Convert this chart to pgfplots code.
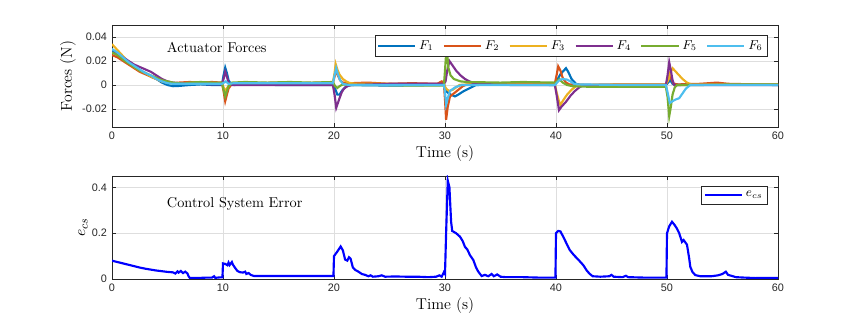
\documentclass[border=0pt]{standalone}
\usepackage{fontspec}
\usepackage{pgfplots}
\pgfplotsset{compat=1.18}
\newfontfamily\tickfont{Liberation Sans}

% MATLAB default line colours
\definecolor{mblue}{RGB}{0,114,189}
\definecolor{morange}{RGB}{217,83,25}
\definecolor{myellow}{RGB}{237,177,32}
\definecolor{mpurple}{RGB}{126,47,142}
\definecolor{mgreen}{RGB}{119,172,48}
\definecolor{mcyan}{RGB}{77,190,238}
\definecolor{axgray}{RGB}{38,38,38}

\pgfplotsset{mstyle/.style={
  scale only axis, width=466.2pt,
  xmin=0, xmax=60, xtick={0,10,...,60},
  xtick pos=both, ytick pos=both,
  tick align=inside, major tick length=3pt,
  axis line style={axgray, line width=0.5pt},
  tick style={axgray, line width=0.5pt},
  grid=major, major grid style={black!13, line width=0.4pt},
  /pgf/number format/assume math mode=true,
  ticklabel style={font=\tickfont\fontsize{7.6}{8}\selectfont, text=axgray},
  label style={font=\fontsize{11}{13}\selectfont},
  xlabel={Time (s)},
  xlabel style={at={(axis description cs:0.5,-0.265)}, anchor=center},
  legend cell align=left,
  legend style={draw=axgray, line width=0.5pt, fill=white, inner sep=1.5pt,
    font=\fontsize{9}{10}\selectfont, anchor=north east},
  legend image code/.code={\draw[#1] (0pt,0pt) -- (26pt,0pt);},
  every axis plot/.append style={line width=1.5pt},
}}

\begin{document}
\begin{tikzpicture}
\path[use as bounding box] (0,0) rectangle (602.7pt,229.6pt);

\begin{axis}[mstyle,
  at={(78.4pt,140.7pt)}, height=71.4pt,
  ymin=-0.035, ymax=0.05,
  ytick={-0.02,0,0.02,0.04}, yticklabels={-0.02,0,0.02,0.04},
  scaled y ticks=false,
  ylabel={Forces (N)},
  ylabel style={at={(axis description cs:-0.066,0.5)}, anchor=center},
  legend columns=6,
  legend style={at={(0.985,0.902)}},
  /tikz/every even column/.append style={column sep=4.5pt},
]
\addplot[mblue] coordinates {
(0,0.029) (0.5,0.025) (1,0.021) (1.5,0.018) (2,0.015) (2.5,0.012) (3,0.010) (3.5,0.007)
(4,0.005) (4.5,0.002) (5,0.000) (5.5,-0.001) (6,-0.0008) (7,0.000) (8,0.0005) (9,0.000)
(9.9,0.000) (10.05,0.008) (10.2,0.0145) (10.35,0.010) (10.5,0.004) (10.7,0.001) (11,0.000)
(12,0.0005) (15,0.000) (18,0.000) (19.9,0.000) (20.1,-0.003) (20.3,-0.008) (20.5,-0.008)
(20.7,-0.005) (21,-0.002) (21.4,0.000) (25,-0.0005) (29.5,0.000) (29.8,0.002) (30.0,-0.002)
(30.2,-0.006) (30.5,-0.008) (30.9,-0.0095) (31.2,-0.008) (31.65,-0.0053) (32.25,-0.0025)
(32.8,0.000) (35,0.0005) (39.9,0.000) (40.1,0.004) (40.4,0.009) (40.7,0.012) (40.9,0.014)
(41.1,0.011) (41.4,0.005) (41.8,0.001) (42.2,0.000) (45,0.000) (49.9,0.000) (50.1,0.002)
(50.3,0.004) (50.5,0.001) (50.8,0.000) (55,0.0005) (60,0.000)
};
\addplot[morange] coordinates {
(0,0.025) (0.5,0.023) (1,0.020) (1.5,0.017) (2,0.014) (2.5,0.011) (3,0.009) (3.5,0.007)
(4,0.005) (4.5,0.003) (5,0.002) (5.5,0.0015) (6,0.002) (7,0.0025) (8,0.002) (9,0.0025)
(9.9,0.002) (10.05,-0.005) (10.2,-0.0135) (10.35,-0.008) (10.5,-0.003) (10.8,0.001)
(11.5,0.002) (13,0.0015) (15,0.002) (17,0.0015) (19,0.002) (19.9,0.002) (20.05,0.007)
(20.2,0.012) (20.35,0.008) (20.55,0.004) (20.8,0.002) (21.5,0.0015) (23,0.002) (25,0.001)
(27,0.0015) (29.3,0.001) (29.7,0.003) (29.9,0.001) (30.0,-0.012) (30.1,-0.029)
(30.25,-0.018) (30.45,-0.0095) (30.8,-0.007) (31.2,-0.004) (31.6,-0.001) (32,0.0005)
(34,0.0015) (36,0.001) (39.9,0.0015) (40.05,0.008) (40.2,0.0155) (40.4,0.012) (40.6,0.006)
(40.9,0.002) (41.2,0.0005) (43,0.000) (46,0.0005) (49.9,0.0005) (50.1,0.004) (50.25,0.009)
(50.4,0.005) (50.6,0.001) (51,0.0005) (53,0.001) (54.5,0.002) (55.5,0.001) (58,0.0005)
(60,0.0005)
};
\addplot[myellow] coordinates {
(0,0.034) (0.5,0.029) (1,0.024) (1.5,0.019) (2,0.015) (2.5,0.012) (3,0.010) (3.5,0.007)
(4,0.005) (4.5,0.003) (5,0.002) (5.5,0.0015) (6,0.0015) (8,0.002) (9.9,0.0015)
(10.05,-0.002) (10.2,-0.005) (10.4,-0.002) (10.7,0.001) (11.5,0.0015) (15,0.0015)
(19.9,0.0015) (20.05,0.010) (20.15,0.0175) (20.3,0.013) (20.5,0.0086) (20.8,0.005)
(21.1,0.003) (21.4,0.0017) (22,0.001) (25,0.001) (29.9,0.0005) (30.1,-0.003)
(30.35,-0.005) (30.7,-0.004) (31.0,-0.002) (31.3,0.000) (32,0.0005) (36,0.0005)
(39.9,0.0005) (40.05,-0.006) (40.25,-0.013) (40.4,-0.0165) (40.7,-0.012) (41.0,-0.008)
(41.4,-0.004) (41.8,-0.001) (42.2,0.000) (46,0.0005) (49.9,0.0005) (50.1,0.004)
(50.3,0.010) (50.5,0.014) (50.8,0.011) (51.1,0.008) (51.4,0.005) (51.8,0.002)
(52.2,0.0005) (56,0.0005) (60,0.0005)
};
\addplot[mpurple] coordinates {
(0,0.027) (0.5,0.026) (1,0.023) (1.5,0.020) (2,0.017) (2.5,0.015) (3,0.013) (3.5,0.011)
(4,0.008) (4.5,0.005) (5,0.003) (5.5,0.002) (6,0.0015) (7,0.001) (8,0.001) (9,0.0005)
(9.9,0.0005) (10.05,0.005) (10.2,0.011) (10.35,0.007) (10.5,0.002) (10.8,0.000) (12,0.000)
(15,0.000) (18,0.000) (19.9,0.000) (20.05,-0.008) (20.2,-0.019) (20.35,-0.015)
(20.5,-0.011) (20.7,-0.006) (20.9,-0.003) (21.2,-0.001) (21.6,0.000) (25,0.001)
(29.9,0.001) (30.05,0.003) (30.2,0.012) (30.4,0.020) (30.7,0.016) (31.0,0.012)
(31.4,0.008) (31.8,0.005) (32.2,0.003) (32.6,0.0015) (33,0.001) (36,0.000) (39.9,0.000)
(40.05,-0.008) (40.27,-0.021) (40.5,-0.018) (40.9,-0.014) (41.3,-0.009) (41.7,-0.005)
(42.1,-0.002) (42.5,0.000) (45,0.000) (49.9,0.000) (50.05,0.008) (50.2,0.019)
(50.35,0.012) (50.5,0.004) (50.65,0.000) (55,0.000) (60,0.000)
};
\addplot[mgreen] coordinates {
(0,0.027) (0.5,0.025) (1,0.021) (1.5,0.018) (2,0.015) (2.5,0.012) (3,0.010) (3.5,0.008)
(4,0.006) (4.5,0.004) (5,0.003) (5.5,0.002) (6,0.0015) (6.5,0.001) (7,0.002) (8,0.0025)
(9,0.002) (9.9,0.002) (10.05,-0.004) (10.2,-0.0095) (10.35,-0.005) (10.5,-0.001)
(10.8,0.002) (12,0.0025) (14,0.002) (16,0.0025) (18,0.002) (19.9,0.0025) (20.1,-0.001)
(20.3,-0.0025) (20.5,-0.001) (20.8,0.0005) (21.5,0.000) (24,0.000) (27,-0.0005)
(29.9,-0.0005) (30.0,0.012) (30.15,0.033) (30.3,0.0145) (30.5,0.008) (30.8,0.005)
(31.1,0.004) (31.4,0.003) (32,0.0025) (35,0.002) (37,0.0025) (39.9,0.002) (40.1,0.003)
(40.3,0.005) (40.6,0.002) (41,0.000) (41.5,-0.001) (43,-0.0015) (46,-0.0015)
(49.9,-0.0015) (50.05,-0.010) (50.2,-0.026) (50.35,-0.018) (50.5,-0.008) (50.7,-0.002)
(50.9,0.000) (53,0.000) (56,0.0005) (60,0.0005)
};
\addplot[mcyan] coordinates {
(0,0.030) (0.5,0.027) (1,0.023) (1.5,0.019) (2,0.016) (2.5,0.013) (3,0.010) (3.5,0.008)
(4,0.005) (4.5,0.003) (5,0.0015) (5.5,0.001) (6,0.001) (8,0.001) (9.9,0.001) (10.1,0.002)
(10.25,0.003) (10.5,0.001) (11,0.0015) (15,0.0015) (19.9,0.0015) (20.05,0.008)
(20.2,0.014) (20.35,0.009) (20.55,0.004) (20.8,0.001) (21.3,0.000) (25,0.000)
(29.9,0.000) (30.0,-0.006) (30.1,-0.0164) (30.25,-0.011) (30.45,-0.005) (30.9,-0.002)
(31.5,0.000) (35,0.000) (39.9,0.000) (40.1,0.002) (40.3,0.004) (40.6,0.005)
(41.0,0.0045) (41.3,0.003) (41.6,0.001) (42,0.0005) (46,0.000) (49.9,0.000)
(50.05,-0.006) (50.25,-0.015) (50.5,-0.0135) (50.8,-0.012) (51.1,-0.011) (51.4,-0.007)
(51.7,-0.003) (52.1,0.000) (56,0.000) (60,0.000)
};
\legend{$F_1$,$F_2$,$F_3$,$F_4$,$F_5$,$F_6$}
\node[anchor=west, font=\fontsize{10}{12}\selectfont] at (axis cs:4.5,0.031) {Actuator Forces};
\end{axis}

\begin{axis}[mstyle,
  at={(78.4pt,34.3pt)}, height=72.1pt,
  ymin=0, ymax=0.45, ytick={0,0.2,0.4},
  ylabel={$e_{cs}$},
  ylabel style={at={(axis description cs:-0.0435,0.5)}, anchor=center},
  xlabel style={at={(axis description cs:0.5,-0.262)}},
  legend style={at={(0.985,0.903)}},
]
\addplot[blue] coordinates {
(0,0.080) (0.5,0.074) (1,0.068) (1.5,0.062) (2,0.056) (2.5,0.050) (3,0.045) (3.5,0.041)
(4,0.037) (4.5,0.034) (5,0.031) (5.5,0.029) (5.7,0.024) (5.9,0.033) (6.0,0.028)
(6.2,0.035) (6.4,0.026) (6.6,0.032) (6.8,0.024) (6.9,0.012) (7.0,0.005) (7.5,0.005)
(8,0.005) (8.5,0.006) (9,0.006) (9.2,0.012) (9.3,0.005) (9.7,0.007) (9.95,0.007)
(10.0,0.068) (10.2,0.066) (10.4,0.060) (10.5,0.072) (10.6,0.061) (10.8,0.074)
(10.9,0.062) (11.1,0.048) (11.3,0.035) (11.5,0.030) (11.8,0.028) (12.0,0.032)
(12.1,0.022) (12.3,0.026) (12.5,0.018) (12.8,0.013) (14,0.013) (16,0.013) (18,0.013)
(19.95,0.013) (20.0,0.100) (20.3,0.120) (20.6,0.142) (20.8,0.125) (21.0,0.085)
(21.2,0.080) (21.35,0.095) (21.5,0.088) (21.7,0.050) (21.9,0.040) (22.2,0.032)
(22.5,0.022) (22.8,0.018) (23.1,0.012) (23.3,0.016) (23.5,0.010) (24,0.012) (24.3,0.016)
(24.6,0.010) (25.5,0.011) (26.5,0.010) (27.5,0.010) (28.5,0.008) (29.2,0.010)
(29.5,0.016) (29.7,0.010) (29.9,0.030) (30.0,0.022) (30.1,0.200) (30.25,0.430)
(30.4,0.400) (30.55,0.250) (30.65,0.210) (31.0,0.200) (31.35,0.185) (31.6,0.165)
(31.8,0.140) (32.0,0.130) (32.25,0.104) (32.55,0.083) (32.8,0.050) (33.0,0.032)
(33.3,0.013) (33.6,0.018) (33.9,0.012) (34.2,0.022) (34.4,0.012) (34.7,0.020)
(35.0,0.010) (35.5,0.008) (37,0.008) (38.5,0.006) (39.95,0.006) (40.0,0.200)
(40.2,0.210) (40.4,0.208) (40.7,0.180) (41.0,0.150) (41.25,0.126) (41.6,0.105)
(42.0,0.085) (42.45,0.061) (42.8,0.035) (43.05,0.022) (43.3,0.012) (44,0.010)
(44.8,0.012) (45.0,0.018) (45.2,0.010) (46,0.008) (46.3,0.014) (46.5,0.008) (48,0.006)
(49.95,0.006) (50.0,0.200) (50.2,0.230) (50.45,0.250) (50.7,0.235) (50.9,0.220)
(51.1,0.200) (51.35,0.162) (51.5,0.170) (51.8,0.150) (52.0,0.090) (52.1,0.053)
(52.3,0.030) (52.55,0.017) (53,0.012) (54,0.012) (54.6,0.016) (55.0,0.022) (55.3,0.032)
(55.5,0.018) (55.8,0.014) (56.2,0.008) (57,0.006) (58,0.004) (59,0.005) (60,0.005)
};
\legend{$e_{cs}$}
\node[anchor=west, font=\fontsize{10}{12}\selectfont] at (axis cs:4.5,0.33) {Control System Error};
\end{axis}
\end{tikzpicture}
\end{document}
